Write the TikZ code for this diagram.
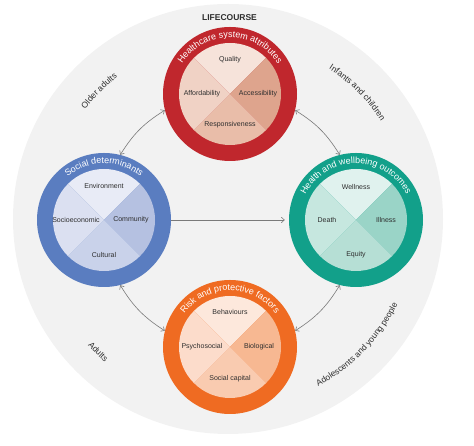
\documentclass[tikz,border=0pt]{standalone}
\usepackage{fontspec}
\setmainfont{Liberation Sans}
\usetikzlibrary{decorations.text,arrows.meta}
\definecolor{bggray}{HTML}{F2F2F2}
\definecolor{txt}{HTML}{2E2E2E}
\definecolor{arrowgray}{HTML}{7A7A7A}
\definecolor{hcring}{RGB}{192,39,45}
\definecolor{hcT}{HTML}{F6E3DA}
\definecolor{hcL}{HTML}{F0D2C5}
\definecolor{hcR}{HTML}{DEA48D}
\definecolor{hcB}{HTML}{E9BDA9}
\definecolor{sdring}{RGB}{90,125,192}
\definecolor{sdT}{HTML}{E8EBF6}
\definecolor{sdL}{HTML}{DBE0F1}
\definecolor{sdR}{HTML}{B5C1E1}
\definecolor{sdB}{HTML}{C9D2EA}
\definecolor{hwring}{RGB}{18,160,138}
\definecolor{hwT}{HTML}{E0F2EE}
\definecolor{hwL}{HTML}{C6E7DF}
\definecolor{hwR}{HTML}{9AD4C7}
\definecolor{hwB}{HTML}{B6DFD5}
\definecolor{rpring}{RGB}{239,107,34}
\definecolor{rpT}{HTML}{FDE8DC}
\definecolor{rpL}{HTML}{FCDCCB}
\definecolor{rpR}{HTML}{F7B892}
\definecolor{rpB}{HTML}{F9CBB0}
\newcommand\mkquads[5]{%
  \fill[#2] (#1) -- ++(45:51) arc (45:135:51) -- cycle;
  \fill[#3] (#1) -- ++(-45:51) arc (-45:45:51) -- cycle;
  \fill[#4] (#1) -- ++(-135:51) arc (-135:-45:51) -- cycle;
  \fill[#5] (#1) -- ++(135:51) arc (135:225:51) -- cycle;}
\newcommand\ringfont{\fontsize{9}{10}\selectfont\color{white}}
\newcommand\outerfont{\fontsize{8.5}{9}\selectfont\color{txt}}
\begin{document}
\begin{tikzpicture}[x=1pt,y=1pt,
  ringnode/.style={circle, minimum size=134pt, inner sep=0pt, draw=none},
  qlabel/.style={font=\fontsize{7}{8}\selectfont, text=txt, inner sep=0pt},
  link/.style={draw=arrowgray, line width=0.6pt, {Straight Barb[length=3pt,width=5.5pt]}-{Straight Barb[length=3pt,width=5.5pt]}},
  harrow/.style={draw=arrowgray, line width=0.6pt, -{Straight Barb[length=3pt,width=5.5pt]}},
]
\useasboundingbox (0,0) rectangle (474,446);
\fill[bggray] (228,227) circle (215);
\coordinate (cen) at (229,225);

\node[font=\bfseries\fontsize{8.5}{9}\selectfont, text=txt] (lc) at (229.5,428) {LIFECOURSE};

% outer life stage labels
\path[decorate, decoration={text along path, text={|\outerfont|Older adults}, text align=center}]
  ([shift={(165:182)}]cen) arc (165:105:182);
\path[decorate, decoration={text along path, text={|\outerfont|Infants and children}, text align=center}]
  ([shift={(80:182)}]cen) arc (80:10:182);
\path[decorate, decoration={text along path, text={|\outerfont|Adults}, text align=center}]
  ([shift={(195:188)}]cen) arc (195:255:188);
\path[decorate, decoration={text along path, text={|\outerfont|Adolescents and young people}, text align=center}]
  ([shift={(-85:188)}]cen) arc (-85:-3:188);

% circles
\node[ringnode, fill=hcring] (hc) at (230,352) {};
\node[ringnode, fill=sdring] (sd) at (104,226) {};
\node[ringnode, fill=hwring] (hw) at (356,226) {};
\node[ringnode, fill=rpring] (rp) at (230,99) {};

\mkquads{hc.center}{hcT}{hcR}{hcB}{hcL}
\mkquads{sd.center}{sdT}{sdR}{sdB}{sdL}
\mkquads{hw.center}{hwT}{hwR}{hwB}{hwL}
\mkquads{rp.center}{rpT}{rpR}{rpB}{rpL}

% ring titles
\path[decorate, decoration={text along path, text={|\ringfont|Healthcare system attributes}, text align=center}]
  ([shift={(170:56.5)}]hc.center) arc (170:10:56.5);
\path[decorate, decoration={text along path, text={|\ringfont|Social determinants}, text align=center}]
  ([shift={(170:56.5)}]sd.center) arc (170:10:56.5);
\path[decorate, decoration={text along path, text={|\ringfont|Health and wellbeing outcomes}, text align=center}]
  ([shift={(175:56.5)}]hw.center) arc (175:5:56.5);
\path[decorate, decoration={text along path, text={|\ringfont|Risk and protective factors}, text align=center}]
  ([shift={(170:56.5)}]rp.center) arc (170:10:56.5);

% quadrant labels
\node[qlabel] (q1) at ([yshift=34pt]hc.center) {Quality};
\node[qlabel] (q2) at ([xshift=-28pt]hc.center) {Affordability};
\node[qlabel] (q3) at ([xshift=28pt]hc.center) {Accessibility};
\node[qlabel] (q4) at ([yshift=-31pt]hc.center) {Responsiveness};

\node[qlabel] (s1) at ([yshift=34pt]sd.center) {Environment};
\node[qlabel] (s2) at ([xshift=-28pt]sd.center) {Socioeconomic};
\node[qlabel] (s3) at ([xshift=27pt]sd.center) {Community};
\node[qlabel] (s4) at ([yshift=-35pt]sd.center) {Cultural};

\node[qlabel] (w1) at ([yshift=33pt]hw.center) {Wellness};
\node[qlabel] (w2) at ([xshift=-29pt]hw.center) {Death};
\node[qlabel] (w3) at ([xshift=30pt]hw.center) {Illness};
\node[qlabel] (w4) at ([yshift=-35pt]hw.center) {Equity};

\node[qlabel] (r1) at ([yshift=35pt]rp.center) {Behaviours};
\node[qlabel] (r2) at ([xshift=-28pt]rp.center) {Psychosocial};
\node[qlabel] (r3) at ([xshift=29pt]rp.center) {Biological};
\node[qlabel] (r4) at ([yshift=-32pt]rp.center) {Social capital};

% connectors
\draw[link] (sd.76) to[bend left=13] (hc.194);
\draw[link] (hc.-14) to[bend left=13] (hw.104);
\draw[link] (hw.256) to[bend left=13] (rp.14);
\draw[link] (rp.166) to[bend left=13] (sd.284);
\draw[harrow] (sd.east) -- ([xshift=-4pt]hw.west);
\end{tikzpicture}
\end{document}
